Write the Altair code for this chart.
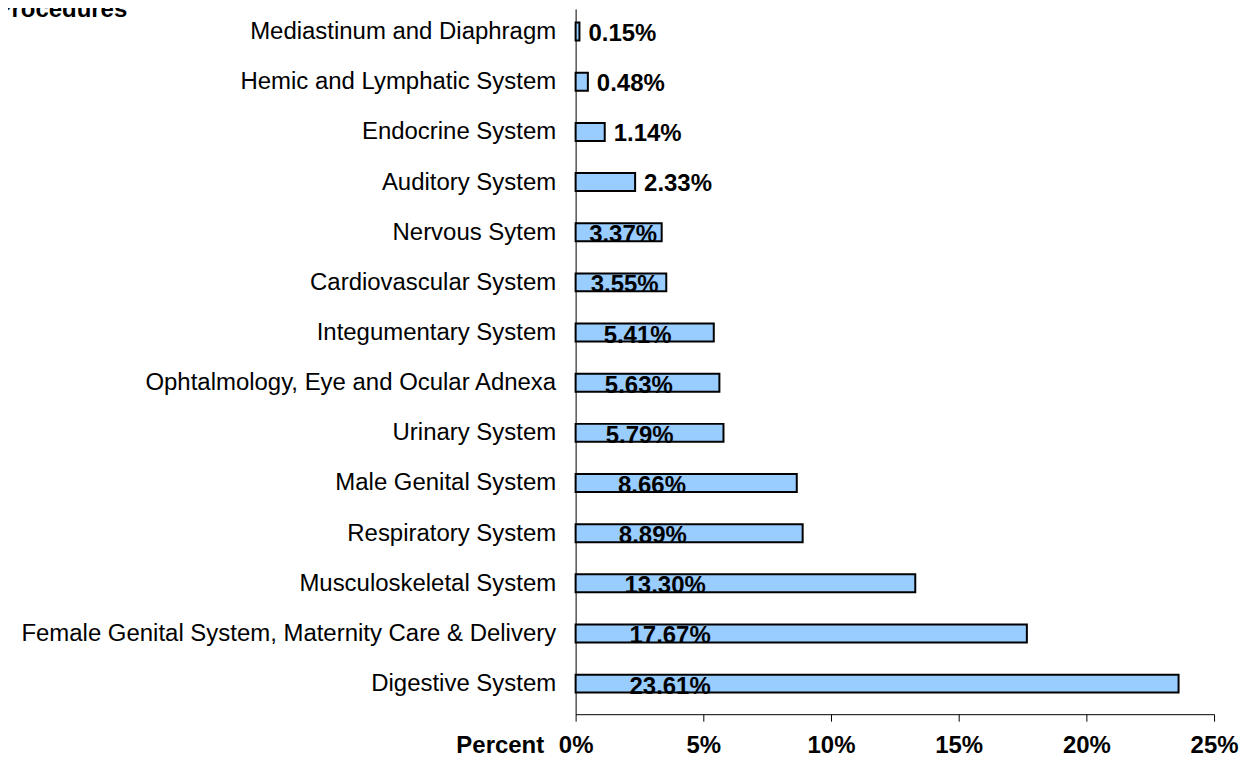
import json
import altair as alt
import pandas as pd

categories = [
    "Mediastinum and Diaphragm",
    "Hemic and Lymphatic System",
    "Endocrine System",
    "Auditory System",
    "Nervous Sytem",
    "Cardiovascular System",
    "Integumentary System",
    "Ophtalmology, Eye and Ocular Adnexa",
    "Urinary System",
    "Male Genital System",
    "Respiratory System",
    "Musculoskeletal System",
    "Female Genital System, Maternity Care & Delivery",
    "Digestive System",
]
values = [0.15, 0.48, 1.14, 2.33, 3.37, 3.55, 5.41, 5.63, 5.79, 8.66, 8.89, 13.30, 17.67, 23.61]
x_ticks = [0, 5, 10, 15, 20, 25]

df = pd.DataFrame({"category": categories, "value": values, "idx": list(range(len(categories)))})

FONT = "Liberation Sans"
H = 707
STEP = 51.0
FIRST = 18.0
d0 = -FIRST / STEP
d1 = d0 + H / STEP

label_expr = json.dumps(categories) + "[datum.value]"

yenc = alt.Y(
    "idx:Q",
    scale=alt.Scale(domain=[d0, d1], reverse=True, zero=False, nice=False),
    axis=alt.Axis(
        values=list(range(len(categories))),
        labelExpr=label_expr,
        ticks=False,
        grid=False,
        domainColor="black",
        domainWidth=1,
        labelFontSize=24,
        labelFont=FONT,
        labelColor="black",
        labelPadding=20,
        labelLimit=700,
        labelOverlap=False,
        labelBaseline="middle",
        title="Procedures",
        titleAngle=0,
        titleAlign="right",
        titleBaseline="alphabetic",
        titleX=-450,
        titleY=8,
        titleFont=FONT,
        titleFontSize=24,
        titleFontWeight="bold",
        titleColor="black",
    ),
)

xenc = alt.X(
    "value:Q",
    scale=alt.Scale(domain=[0, 25], nice=False, zero=True),
    axis=alt.Axis(
        values=x_ticks,
        labelExpr="datum.value + '%'",
        grid=False,
        ticks=True,
        tickSize=7,
        tickColor="black",
        domainColor="black",
        labelFont=FONT,
        labelFontSize=24,
        labelFontWeight="bold",
        labelColor="black",
        labelBaseline="alphabetic",
        labelPadding=31,
        labelOverlap=False,
        labelFlush=False,
        title="Percent",
        titleX=-32,
        titleY=38,
        titleAlign="right",
        titleBaseline="alphabetic",
        titleFont=FONT,
        titleFontSize=24,
        titleFontWeight="bold",
        titleColor="black",
    ),
)

bars = alt.Chart(df).mark_bar(
    orient="horizontal", size=18, color="#99CCFF", stroke="black", strokeWidth=2
).encode(x=xenc, y=yenc)

base = alt.Chart(df).transform_calculate(
    label="format(datum.value, '.2f') + '%'",
    pos="min(1.2 * log(datum.value) + 0.4, 3.7)",
)

inner = base.transform_filter("datum.value >= 3").mark_text(
    align="center", baseline="alphabetic", dy=10, font=FONT, fontSize=24, fontWeight="bold", color="black"
).encode(
    x=alt.X("pos:Q"),
    y=alt.Y("idx:Q"),
    text="label:N",
)

outer = base.transform_filter("datum.value < 3").mark_text(
    align="left", baseline="alphabetic", dx=9, dy=9, font=FONT, fontSize=24, fontWeight="bold", color="black"
).encode(
    x=alt.X("value:Q"),
    y=alt.Y("idx:Q"),
    text="label:N",
)

chart = alt.layer(bars, inner, outer).properties(
    width=640,
    height=H,
    autosize=alt.AutoSizeParams(type="none"),
    padding={"left": 569, "top": 0, "right": 25, "bottom": 42},
).configure(font=FONT).configure_view(strokeWidth=0, stroke="transparent")

chart.save("out.html", embed_options={"renderer": "svg", "actions": False})
